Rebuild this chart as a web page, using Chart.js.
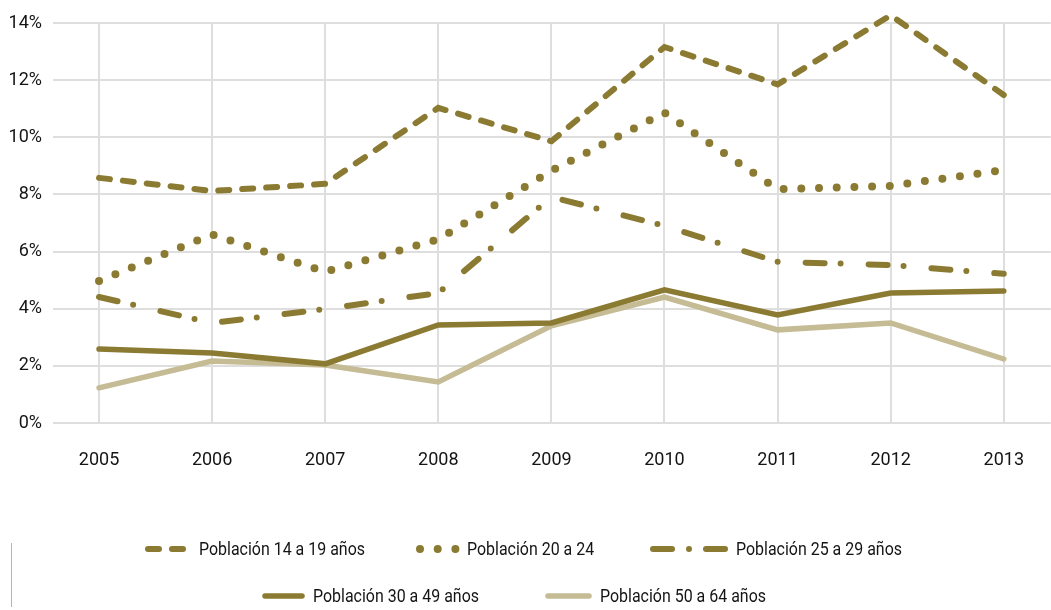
<!DOCTYPE html>
<html>
<head>
<meta charset="utf-8">
<script src="https://cdn.jsdelivr.net/npm/chart.js@4.4.0/dist/chart.umd.min.js"></script>
<style>
  html, body { margin: 0; padding: 0; background: #fff; }
  #contenedor { position: relative; width: 1051px; height: 610px; }
  #marco { position: absolute; left: 11px; top: 543px; width: 0; height: 64px; border-left: 1px solid #b4b4b4; }
</style>
</head>
<body>
<div id="contenedor">
  <canvas id="grafico" width="1051" height="610"></canvas>
  <div id="marco"></div>
</div>
<script>
// Años y porcentajes por grupo de edad
var anios = [2005, 2006, 2007, 2008, 2009, 2010, 2011, 2012, 2013];
var pob14a19 = [8.58, 8.12, 8.37, 11.03, 9.86, 13.16, 11.85, 14.27, 11.48];
var pob20a24 = [4.97, 6.60, 5.29, 6.43, 8.83, 10.86, 8.18, 8.30, 8.85];
var pob25a29 = [4.41, 3.50, 3.99, 4.55, 7.91, 6.90, 5.64, 5.53, 5.22];
var pob30a49 = [2.59, 2.45, 2.07, 3.43, 3.50, 4.66, 3.78, 4.55, 4.62];
var pob50a64 = [1.23, 2.17, 2.03, 1.44, 3.40, 4.41, 3.26, 3.50, 2.24];
var nombres = ['Población 14 a 19 años', 'Población 20 a 24', 'Población 25 a 29 años', 'Población 30 a 49 años', 'Población 50 a 64 años'];

var oscuro = '#8b7a31';
var claro = '#c5bb94';
var fuente = 'Roboto, "Liberation Sans", sans-serif';

function puntos(valores) {
  var res = [];
  for (var i = 0; i < anios.length; i++) {
    res.push({ x: anios[i], y: valores[i] });
  }
  return res;
}

function serie(nombre, valores, color, ancho, trazo) {
  return {
    label: nombre,
    data: puntos(valores),
    borderColor: color,
    backgroundColor: color,
    borderWidth: ancho,
    borderDash: trazo,
    borderCapStyle: 'round',
    borderJoinStyle: 'miter',
    pointRadius: 0,
    tension: 0,
    clip: false
  };
}

// leyenda propia: dos filas, con la muestra del trazo de cada serie
var leyenda = {
  id: 'leyenda',
  afterDraw: function (chart) {
    var ctx = chart.ctx;
    var items = [
      { x: 148, y: 549, largo: 40 },
      { x: 420, y: 549, largo: 36 },
      { x: 653, y: 549, largo: 72, trazo: [19, 17, 0, 17] },
      { x: 265, y: 596, largo: 37 },
      { x: 548, y: 596, largo: 41 }
    ];
    ctx.save();
    for (var i = 0; i < items.length; i++) {
      var ds = chart.data.datasets[i];
      var it = items[i];
      ctx.beginPath();
      ctx.strokeStyle = ds.borderColor;
      ctx.lineWidth = ds.borderWidth;
      ctx.lineCap = 'round';
      ctx.setLineDash(it.trazo || ds.borderDash || []);
      ctx.moveTo(it.x, it.y);
      ctx.lineTo(it.x + it.largo, it.y);
      ctx.stroke();
      ctx.setLineDash([]);
      ctx.save();
      ctx.translate(it.x + it.largo + 11, it.y + 1);
      ctx.scale(0.84, 1);
      ctx.fillStyle = '#141414';
      ctx.font = '19px ' + fuente;
      ctx.textAlign = 'left';
      ctx.textBaseline = 'middle';
      ctx.fillText(ds.label, 0, 0);
      ctx.restore();
    }
    ctx.restore();
  }
};

new Chart(document.getElementById('grafico'), {
  type: 'line',
  data: {
    datasets: [
      serie(nombres[0], pob14a19, oscuro, 6, [11, 13]),
      serie(nombres[1], pob20a24, oscuro, 8, [0, 17.7]),
      serie(nombres[2], pob25a29, oscuro, 6, [19, 16, 0, 28]),
      serie(nombres[3], pob30a49, oscuro, 5.5, []),
      serie(nombres[4], pob50a64, claro, 5.5, [])
    ]
  },
  options: {
    responsive: false,
    animation: false,
    layout: { padding: { top: 23, right: 0, bottom: 127, left: 0 } },
    plugins: {
      legend: { display: false },
      tooltip: { enabled: false }
    },
    scales: {
      x: {
        type: 'linear',
        min: 2004.593,
        max: 2013.415,
        afterFit: function (scale) { scale.height = 60; },
        border: { display: false },
        grid: { color: '#dedede', lineWidth: 2, drawTicks: false },
        ticks: {
          stepSize: 1,
          includeBounds: false,
          padding: 27,
          color: '#141414',
          font: { family: fuente, size: 18 },
          callback: function (v) { return String(v); }
        }
      },
      y: {
        min: 0,
        max: 14,
        afterFit: function (scale) { scale.width = 53; },
        border: { display: false },
        grid: { color: '#dedede', lineWidth: 2, drawTicks: false },
        ticks: {
          stepSize: 2,
          padding: 11,
          color: '#141414',
          font: { family: fuente, size: 18 },
          callback: function (v) { return v + '%'; }
        }
      }
    }
  },
  plugins: [leyenda]
});
</script>
</body>
</html>
